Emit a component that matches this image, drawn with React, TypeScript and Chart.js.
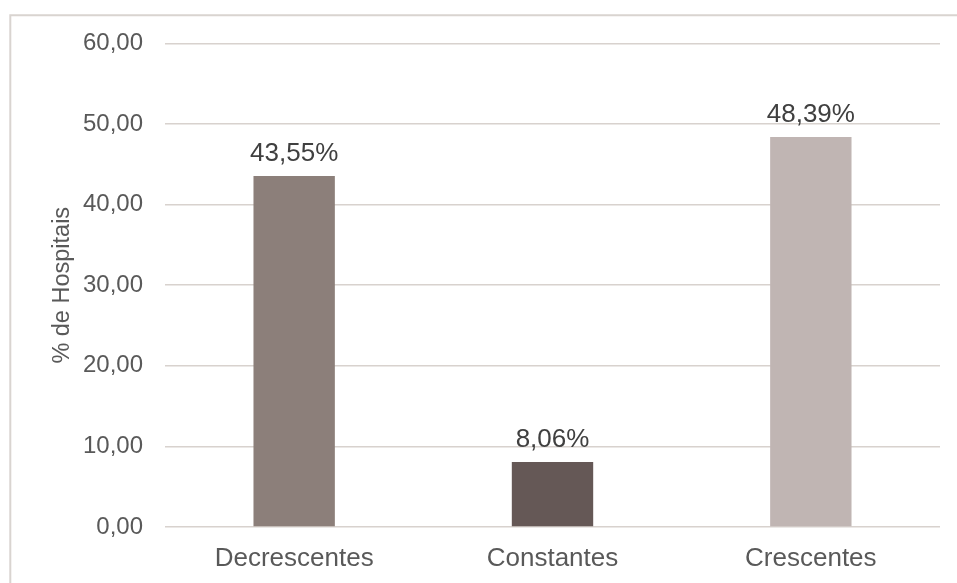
import React, { useEffect, useRef } from "react";
import { Chart, registerables } from "chart.js";

Chart.register(...registerables);

const categories = ["Decrescentes", "Constantes", "Crescentes"];
const percentages = [43.55, 8.06, 48.39];
const barColors = ["#8c7f7a", "#655856", "#c0b5b3"];
const yTicks = [0, 10, 20, 30, 40, 50, 60];
const yTitle = "% de Hospitais";

const FONT = '"Liberation Sans", Arial, Helvetica, sans-serif';

const fmt = (v: number) => v.toFixed(2).replace(".", ",");

// Thin frame along the top and left of the figure
const framePlugin = {
  id: "frame",
  beforeDraw(chart: any) {
    const { ctx, width, height } = chart;
    ctx.save();
    ctx.strokeStyle = "#d9d4d0";
    ctx.lineWidth = 2;
    ctx.beginPath();
    ctx.moveTo(10.3, height + 5);
    ctx.lineTo(10.3, 15.3);
    ctx.lineTo(width + 5, 15.3);
    ctx.stroke();
    ctx.restore();
  },
};

// Percentage labels above each bar
const valueLabelPlugin = {
  id: "valueLabels",
  afterDatasetsDraw(chart: any) {
    const { ctx } = chart;
    const meta = chart.getDatasetMeta(0);
    const data = chart.data.datasets[0].data as number[];
    ctx.save();
    ctx.font = `26px ${FONT}`;
    ctx.fillStyle = "#404040";
    ctx.textAlign = "center";
    ctx.textBaseline = "alphabetic";
    meta.data.forEach((bar: any, i: number) => {
      ctx.fillText(fmt(data[i]) + "%", bar.x, bar.y - 15);
    });
    ctx.restore();
  },
};

export default function App() {
  const canvasRef = useRef<HTMLCanvasElement | null>(null);

  useEffect(() => {
    if (!canvasRef.current) return;
    const chart = new Chart(canvasRef.current, {
      type: "bar",
      data: {
        labels: categories,
        datasets: [
          {
            data: percentages,
            backgroundColor: barColors,
            borderWidth: 0,
            categoryPercentage: 1,
            barPercentage: 0.315,
          },
        ],
      },
      options: {
        responsive: false,
        animation: false,
        devicePixelRatio: 1,
        layout: { padding: { top: 43.5, right: 17, bottom: 0, left: 0 } },
        plugins: {
          legend: { display: false },
          tooltip: { enabled: false },
          title: { display: false },
        },
        scales: {
          x: {
            grid: { display: false, drawTicks: false },
            border: { display: false },
            ticks: {
              padding: 16,
              color: "#595959",
              font: { family: FONT, size: 26 },
            },
            afterFit: (scale: any) => {
              scale.height = 56;
            },
          },
          y: {
            min: 0,
            max: 60,
            afterBuildTicks: (scale: any) => {
              scale.ticks = yTicks.map((v) => ({ value: v }));
            },
            grid: { color: "#d8d2ce", lineWidth: 1.6, drawTicks: false },
            border: { display: false },
            ticks: {
              padding: 22,
              color: "#595959",
              font: { family: FONT, size: 24 },
              callback: (v: any) => fmt(Number(v)),
            },
            title: {
              display: true,
              text: yTitle,
              color: "#595959",
              font: { family: FONT, size: 23.5 },
              padding: { top: 48, bottom: 0 },
            },
            afterFit: (scale: any) => {
              scale.width = 165;
            },
          },
        },
      },
      plugins: [framePlugin, valueLabelPlugin],
    });
    return () => chart.destroy();
  }, []);

  return (
    <div
      style={{
        position: "fixed",
        left: 0,
        top: 0,
        width: 957,
        height: 583,
        background: "#ffffff",
      }}
    >
      <canvas ref={canvasRef} width={957} height={583} />
    </div>
  );
}
